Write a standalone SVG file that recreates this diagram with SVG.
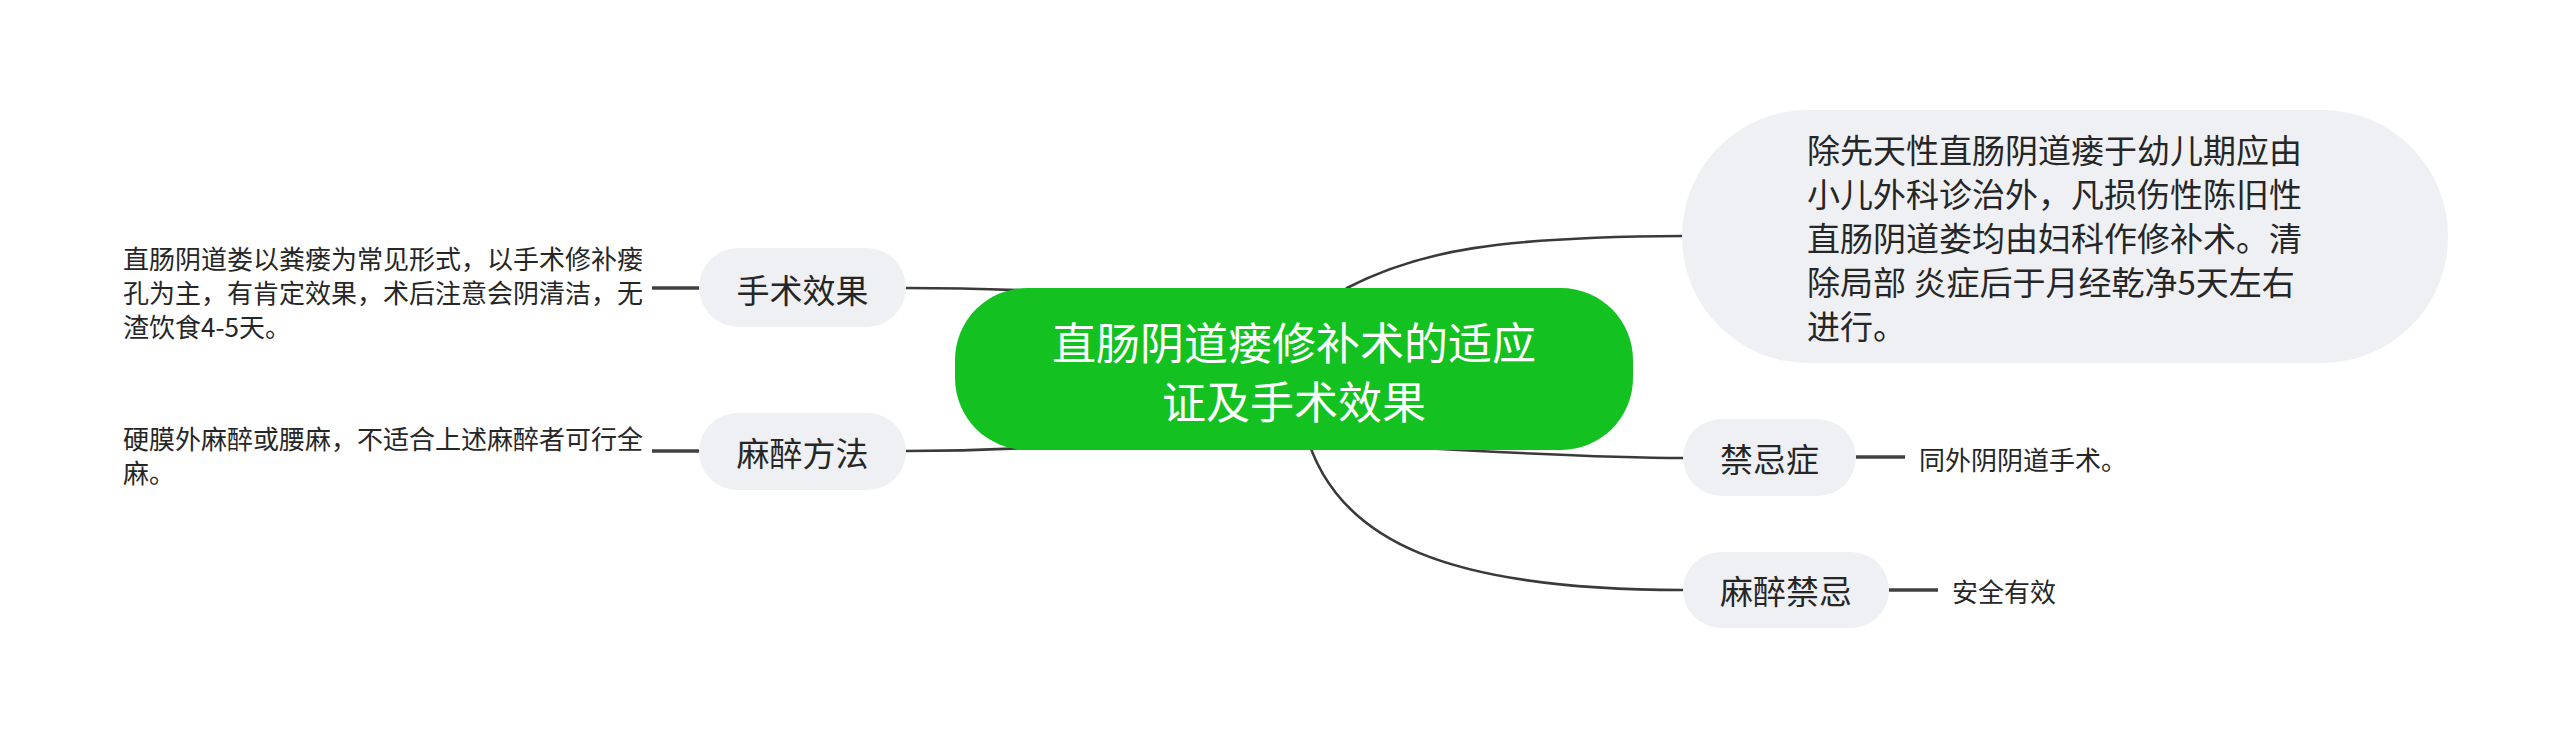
<svg xmlns="http://www.w3.org/2000/svg" width="2560" height="739" viewBox="0 0 2560 739">
<style>
  .t { font-family: "Noto Sans CJK SC", "Noto Sans", sans-serif; fill: #262626; dominant-baseline: central; }
  .c { stroke: #3a3a3a; stroke-width: 2.6; fill: none; stroke-linecap: round; }
  .s { stroke: #404040; stroke-width: 3.5; fill: none; }
  .sub { fill: #eef0f3; }
</style>
<rect width="2560" height="739" fill="#ffffff"/>
<g id="connectors">
  <path class="c" d="M906,288 C960,288 1000,289 1060,292"/>
  <path class="c" d="M906,451 C960,451 1000,450 1060,446"/>
  <path class="c" d="M1682,236 C1500,237 1420,250 1347,288 L1320,310"/>
  <path class="c" d="M1683,458 C1600,458 1520,453 1420,448"/>
  <path class="c" d="M1683,590 C1455,590 1335,545 1305,430"/>
  <line class="s" x1="652" y1="288" x2="699" y2="288"/>
  <line class="s" x1="652" y1="451" x2="699" y2="451"/>
  <line class="s" x1="1856" y1="457" x2="1905" y2="457"/>
  <line class="s" x1="1889" y1="590" x2="1938" y2="590"/>
</g>
<g id="center">
  <rect x="955" y="288" width="678" height="162" rx="72" ry="72" fill="#13c120"/>
  <text class="t" x="1294" y="341" font-size="44" text-anchor="middle" style="fill:#ffffff">直肠阴道瘘修补术的适应</text>
  <text class="t" x="1294" y="400" font-size="44" text-anchor="middle" style="fill:#ffffff">证及手术效果</text>
</g>
<g id="node-indication">
  <rect class="sub" x="1682" y="110" width="766" height="253" rx="126" ry="126"/>
  <text class="t" x="1807" y="149" font-size="33">除先天性直肠阴道瘘于幼儿期应由</text>
  <text class="t" x="1807" y="193" font-size="33">小儿外科诊治外，凡损伤性陈旧性</text>
  <text class="t" x="1807" y="237" font-size="33">直肠阴道娄均由妇科作修补术。清</text>
  <text class="t" x="1807" y="281" font-size="33">除局部 炎症后于月经乾净5天左右</text>
  <text class="t" x="1807" y="325" font-size="33">进行。</text>
</g>
<g id="node-effect">
  <rect class="sub" x="699" y="248" width="207" height="79" rx="39.5" ry="39.5"/>
  <text class="t" x="802.5" y="289" font-size="33" text-anchor="middle">手术效果</text>
</g>
<g id="leaf-effect">
  <text class="t" x="123" y="257" font-size="26">直肠阴道娄以粪瘘为常见形式，以手术修补瘘</text>
  <text class="t" x="123" y="291" font-size="26">孔为主，有肯定效果，术后注意会阴清洁，无</text>
  <text class="t" x="123" y="325" font-size="26">渣饮食4-5天。</text>
</g>
<g id="node-anesthesia">
  <rect class="sub" x="699" y="413" width="207" height="77" rx="38.5" ry="38.5"/>
  <text class="t" x="802.5" y="452" font-size="33" text-anchor="middle">麻醉方法</text>
</g>
<g id="leaf-anesthesia">
  <text class="t" x="123" y="437" font-size="26">硬膜外麻醉或腰麻，不适合上述麻醉者可行全</text>
  <text class="t" x="123" y="471" font-size="26">麻。</text>
</g>
<g id="node-contra">
  <rect class="sub" x="1683" y="419" width="173" height="77" rx="38.5" ry="38.5"/>
  <text class="t" x="1769.5" y="458" font-size="33" text-anchor="middle">禁忌症</text>
</g>
<g id="leaf-contra">
  <text class="t" x="1919" y="458" font-size="26">同外阴阴道手术。</text>
</g>
<g id="node-anes-contra">
  <rect class="sub" x="1683" y="552" width="206" height="76" rx="38" ry="38"/>
  <text class="t" x="1786" y="590" font-size="33" text-anchor="middle">麻醉禁忌</text>
</g>
<g id="leaf-anes-contra">
  <text class="t" x="1952" y="590" font-size="26">安全有效</text>
</g>
</svg>
